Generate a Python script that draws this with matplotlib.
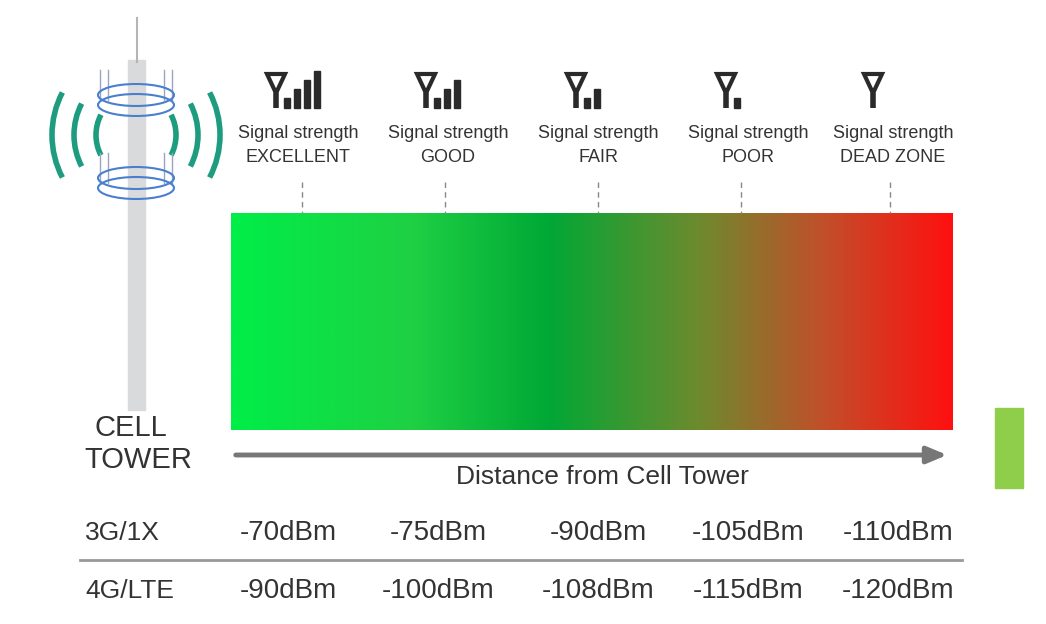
import numpy as np
import matplotlib.pyplot as plt
from matplotlib.patches import Rectangle, Ellipse, Arc, Polygon
from matplotlib.colors import LinearSegmentedColormap

plt.rcParams['font.family'] = ['Liberation Sans', 'DejaVu Sans']

# data
levels = ["EXCELLENT", "GOOD", "FAIR", "POOR", "DEAD ZONE"]
bars = [4, 3, 2, 1, 0]
net_3g = ["-70dBm", "-75dBm", "-90dBm", "-105dBm", "-110dBm"]
net_4g = ["-90dBm", "-100dBm", "-108dBm", "-115dBm", "-120dBm"]
networks = ["3G/1X", "4G/LTE"]

fig = plt.figure(figsize=(10.46, 6.24), dpi=100)
ax = fig.add_axes([0, 0, 1, 1])
ax.set_xlim(0, 1046)
ax.set_ylim(624, 0)
ax.axis("off")

# gradient band
cmap = LinearSegmentedColormap.from_list("sig", [
    (0.0, "#00ee48"), (0.25, "#1fd044"), (0.44, "#00a835"),
    (0.65, "#6e8a2e"), (0.82, "#c0502a"), (1.0, "#ff1010")])
grad = np.linspace(0, 1, 512)[None, :]
ax.imshow(grad, cmap=cmap, extent=[231, 953, 430, 213], aspect="auto", zorder=1)

icon_x = [276, 426, 576, 726, 873]
text_x = [298, 448, 598, 748, 893]
dash_x = [302, 445, 598, 741, 890]
num_x = [288, 438, 598, 748, 898]
ink = "#2a2a2a"
for i, lvl in enumerate(levels):
    x0 = icon_x[i]
    # antenna
    ax.add_patch(Polygon([(x0 - 9, 74), (x0 + 9, 74), (x0 + 1.5, 90), (x0 - 1.5, 90)],
                         closed=True, fill=False, ec=ink, lw=3))
    ax.plot([x0, x0], [88, 108], color=ink, lw=4, solid_capstyle="butt")
    for b in range(bars[i]):
        h = 10 + b * 9
        ax.add_patch(Rectangle((x0 + 8 + b * 10, 108 - h), 5.5, h, color=ink))
    ax.text(text_x[i], 133, "Signal strength", ha="center", va="center", fontsize=13, color="#333333")
    ax.text(text_x[i], 158, lvl, ha="center", va="center", fontsize=13, color="#333333")
    ax.plot([dash_x[i], dash_x[i]], [182, 213], color="#888888", lw=1, ls=(0, (4, 3)), zorder=2)

# arrow
ax.annotate("", xy=(950, 455), xytext=(233, 455),
            arrowprops=dict(arrowstyle="-|>,head_length=1.2,head_width=0.5", color="#777777", lw=3.5))
ax.text(602, 477, "Distance from Cell Tower", ha="center", va="center", fontsize=19, color="#333333")

# tower
ax.add_patch(Rectangle((128, 60), 17, 350, color="#d9dadc", zorder=2))
ax.plot([136.5, 136.5], [18, 62], color="#b5b5b5", lw=1.5)
for yc in [95, 178]:
    for dy in [0, 10]:
        ax.add_patch(Ellipse((136, yc + dy), 76, 22, fill=False, ec="#4a7fd0", lw=1.5, zorder=3))
    for xx in [100, 108, 164, 172]:
        ax.plot([xx, xx], [yc - 25, yc + 5], color="#9aa6c0", lw=1)
for r in [40, 62, 84]:
    for side in [0, 1]:
        th1, th2 = (150, 210) if side == 0 else (-30, 30)
        ax.add_patch(Arc((136, 135), 2 * r, 2.1 * r, theta1=th1, theta2=th2,
                         color="#1e9c80", lw=4))
ax.text(131, 428, "CELL", ha="center", va="center", fontsize=21, color="#333333")
ax.text(138, 460, "TOWER", ha="center", va="center", fontsize=21, color="#333333")

# table
for i in range(5):
    ax.text(num_x[i], 533, net_3g[i], ha="center", va="center", fontsize=20, color="#333333")
    ax.text(num_x[i], 591, net_4g[i], ha="center", va="center", fontsize=20, color="#333333")
ax.text(85, 533, networks[0], ha="left", va="center", fontsize=19, color="#333333")
ax.text(85, 591, networks[1], ha="left", va="center", fontsize=19, color="#333333")
ax.plot([80, 962], [560, 560], color="#999999", lw=2)

ax.add_patch(Rectangle((995, 408), 28, 80, color="#8fce4a"))

fig.savefig("out.png", dpi=100)
